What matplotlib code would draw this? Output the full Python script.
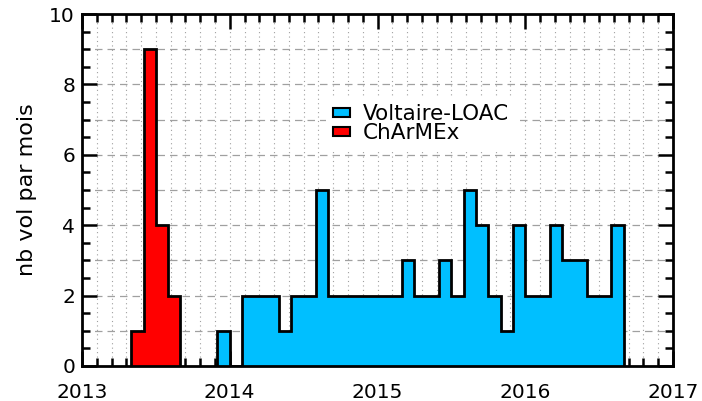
import numpy as np
import matplotlib.pyplot as plt
from matplotlib.ticker import MultipleLocator

plt.rcParams['font.family'] = ['DejaVu Sans']

# monthly flight counts, first month of each series given as (year, month)
charmex_start = (2013, 5)
charmex_counts = [1, 9, 4, 2]

loac_start = (2013, 12)
loac_counts = [1, 0, 2, 2, 2, 1, 2, 2, 5, 2, 2, 2, 2, 2, 2, 3, 2, 2, 3, 2,
               5, 4, 2, 1, 4, 2, 2, 4, 3, 3, 2, 2, 4]

year_ticks = [2013, 2014, 2015, 2016, 2017]
ylabel = 'nb vol par mois'
labels = ['Voltaire-LOAC', 'ChArMEx']
blue = '#00bfff'
red = '#ff0000'
fs = 14.5


def month_edges(start, n):
    y, m = start
    t0 = y + (m - 1) / 12.0
    return t0 + np.arange(n + 1) / 12.0


fig = plt.figure(figsize=(7.02, 4.01), dpi=100)
ax = fig.add_axes([0.1168, 0.0873, 0.8419, 0.8777])

e_loac = month_edges(loac_start, len(loac_counts))
e_ch = month_edges(charmex_start, len(charmex_counts))

h1 = ax.stairs(loac_counts, e_loac, fill=True, color=blue, zorder=2)
ax.stairs(loac_counts, e_loac, color='k', lw=2, baseline=0, zorder=3)
h2 = ax.stairs(charmex_counts, e_ch, fill=True, color=red, zorder=2)
ax.stairs(charmex_counts, e_ch, color='k', lw=2, baseline=0, zorder=3)

ax.set_xlim(2013, 2017)
ax.set_ylim(0, 10)
ax.set_xticks(year_ticks)
ax.set_xticklabels([str(y) for y in year_ticks])
ax.xaxis.set_minor_locator(MultipleLocator(0.1))
ax.yaxis.set_major_locator(MultipleLocator(2))
ax.yaxis.set_minor_locator(MultipleLocator(0.5))

ax.tick_params(which='both', direction='in', top=True, right=True,
               width=1.8, labelsize=fs)
ax.tick_params(which='major', length=11)
ax.tick_params(which='minor', length=5.5)
ax.tick_params(axis='x', which='major', pad=12)
ax.tick_params(axis='y', which='major', pad=5)
for s in ax.spines.values():
    s.set_linewidth(2)

# grid: dotted verticals on minor x ticks, dashed horizontals at integers
for x in np.arange(2013.1, 2017.0, 0.1):
    ax.axvline(x, color='#a0a0a0', ls=(0, (1, 3)), lw=0.8, zorder=1)
for y in range(1, 10):
    ax.axhline(y, color='#a0a0a0', ls=(0, (6, 4)), lw=0.9, zorder=1)

ax.set_ylabel(ylabel, fontsize=16, labelpad=9)

leg = ax.legend([h1, h2], labels, loc='upper left',
                bbox_to_anchor=(0.413, 0.762), borderaxespad=0,
                fontsize=15.5, handlelength=0.8, handleheight=0.33,
                handletextpad=0.6, labelspacing=-0.05, frameon=True,
                borderpad=0.3, fancybox=False)
leg.get_frame().set_edgecolor('none')
leg.get_frame().set_facecolor('white')
leg.get_frame().set_alpha(1)
for p in leg.get_patches():
    p.set_edgecolor('k')
    p.set_linewidth(1.5)

fig.savefig('out.png', dpi=100)
